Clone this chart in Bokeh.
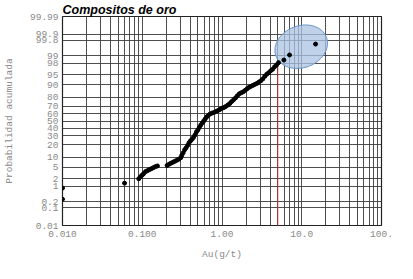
from statistics import NormalDist
from bokeh.plotting import figure
from bokeh.models import Range1d, FixedTicker, CustomJSTickFormatter, BoxAnnotation
from bokeh.embed import file_html
from bokeh.resources import INLINE

# ---- data ----
au = [0.010, 0.010, 0.060,
      0.0904, 0.0955, 0.0998, 0.104, 0.110, 0.116, 0.123, 0.130, 0.138, 0.146, 0.155,
      0.205, 0.217, 0.229, 0.243, 0.257, 0.272, 0.287, 0.304,
      0.313, 0.326, 0.340, 0.355, 0.371, 0.386, 0.403, 0.420, 0.439, 0.458, 0.478,
      0.498, 0.520, 0.542, 0.565, 0.590, 0.615, 0.642, 0.670, 0.708, 0.750, 0.792,
      0.839, 0.889, 0.940, 0.995, 1.05, 1.11, 1.18, 1.25, 1.32, 1.40, 1.48, 1.56,
      1.65, 1.75, 1.85, 1.96, 2.07, 2.19, 2.32, 2.45, 2.59, 2.75, 2.90, 3.07, 3.25,
      3.44, 3.64, 3.85, 4.07, 4.31, 4.56, 4.83, 5.11, 5.97, 7.03, 14.9]
prob = [0.27, 0.85, 1.35,
        2.0, 2.39, 2.71, 3.05, 3.58, 3.86, 4.17, 4.49, 4.84, 5.2, 5.48,
        5.7, 6.2, 6.66, 7.13, 7.62, 8.14, 8.69, 9.56,
        11.1, 12.9, 15.3, 17.0, 19.3, 21.9, 24.0, 25.7, 28.0, 31.0, 34.9,
        37.5, 40.9, 44.4, 47.2, 50.0, 52.8, 55.6, 57.7, 59.8, 61.1, 61.8,
        63.2, 64.5, 65.8, 67.4, 68.3, 69.6, 71.4, 73.2, 75.5, 77.6, 79.5, 81.6,
        83.4, 84.3, 85.1, 86.3, 87.5, 88.5, 89.2, 89.8, 90.4, 91.0, 91.7, 92.4, 93.3,
        94.4, 95.2, 95.7, 96.3, 96.7, 97.3, 97.7, 98.1, 98.5, 99.06, 99.69]

y_tick_pct = [0.01, 0.1, 0.2, 1, 2, 5, 10, 20, 30, 40, 50, 60, 70, 80, 90, 95, 98, 99, 99.8, 99.9, 99.99]
y_tick_labels = ["0.01", "0.1", "0.2", "1", "2", "5", "10", "20", "30", "40", "50",
                 "60", "70", "80", "90", "95", "98", "99", "99.8", "99.9", "99.99"]
x_ticks = [0.01, 0.1, 1, 10, 100]
x_tick_labels = ["0.010", "0.100", "1.00", "10.0", "100."]

cutoff_au = 5.0
cutoff_prob_top = 98.0
ellipse_au = 9.85
ellipse_prob = 99.59

# ---- probability (normal) scale ----
nd = NormalDist()
def z(p):
    return nd.inv_cdf(p / 100.0)

y_ticks_z = [z(p) for p in y_tick_pct]
x_grid = [m * 10.0 ** e for e in range(-2, 2) for m in range(1, 10)] + [100.0]

W, H = 397, 263
p = figure(width=W, height=H, x_axis_type="log",
           x_range=Range1d(0.01, 100), y_range=Range1d(y_ticks_z[0], y_ticks_z[-1]),
           output_backend="svg", toolbar_location=None,
           min_border_left=55, min_border_right=16, min_border_top=15, min_border_bottom=38)
p.border_fill_color = "#ffffff"

# light outer frame around the whole chart
p.add_layout(BoxAnnotation(left=0.5, right=W - 0.5, top=0.5, bottom=H - 0.5,
                           left_units="canvas", right_units="canvas",
                           top_units="canvas", bottom_units="canvas",
                           fill_color=None, fill_alpha=0, line_color="#a8a8a8",
                           line_width=1, line_alpha=1))

p.title.text = "Compositos de oro"
p.title.text_font = "Liberation Sans"
p.title.text_font_style = "bold italic"
p.title.text_font_size = "12.5px"
p.title.align = "left"
p.title.standoff = 0
p.title.offset = 0
p.title.text_color = "#000000"

p.outline_line_color = "#222222"
p.outline_line_width = 1.2

grid_color = "#3c3c3c"
p.xgrid.ticker = FixedTicker(ticks=x_grid)
p.ygrid.ticker = FixedTicker(ticks=y_ticks_z)
for g in (p.xgrid, p.ygrid):
    g.grid_line_color = grid_color
    g.grid_line_width = 1
    g.grid_line_alpha = 0.9

p.xaxis.ticker = FixedTicker(ticks=x_ticks)
p.yaxis.ticker = FixedTicker(ticks=y_ticks_z)
p.xaxis.formatter = CustomJSTickFormatter(args=dict(vals=x_ticks, labels=x_tick_labels), code="""
let b = 0;
for (let i = 0; i < vals.length; i++) {
  if (Math.abs(Math.log10(vals[i]) - Math.log10(tick)) < Math.abs(Math.log10(vals[b]) - Math.log10(tick))) b = i;
}
return labels[b];
""")
p.yaxis.formatter = CustomJSTickFormatter(args=dict(vals=y_ticks_z, labels=y_tick_labels), code="""
let b = 0;
for (let i = 0; i < vals.length; i++) {
  if (Math.abs(vals[i] - tick) < Math.abs(vals[b] - tick)) b = i;
}
return labels[b];
""")

for ax in (p.xaxis, p.yaxis):
    ax.axis_line_color = None
    ax.major_tick_line_color = None
    ax.minor_tick_line_color = None
    ax.major_tick_in = 0
    ax.major_tick_out = 0
    ax.major_label_text_font = "Liberation Mono"
    ax.major_label_text_font_size = "9.5px"
    ax.major_label_text_color = "#8a8a8a"
    ax.axis_label_text_font = "Liberation Mono"
    ax.axis_label_text_font_size = "9.5px"
    ax.axis_label_text_font_style = "normal"
    ax.axis_label_text_color = "#8a8a8a"
    ax.major_label_standoff = 4

p.xaxis.major_label_standoff = 5
p.xaxis.axis_label = "Au(g/t)"
p.yaxis.axis_label = "Probabilidad acumulada"
p.xaxis.axis_label_standoff = 9
p.yaxis.axis_label_standoff = 12

# highlight ellipse around the high-grade outliers
p.ellipse(x=[ellipse_au], y=[z(ellipse_prob)], width=54, height=42,
          width_units="screen", height_units="screen", angle=0.35,
          fill_color="#a9c3e2", fill_alpha=0.75, line_color="#6a95c8", line_width=1)

# cutoff line
p.line(x=[cutoff_au, cutoff_au], y=[y_ticks_z[0], z(cutoff_prob_top)],
       line_color="#e02828", line_dash="1 1", line_width=1.5)

# data points
p.scatter(x=au, y=[z(v) for v in prob], size=4, marker="circle",
          fill_color="#000000", line_color="#000000")

open("out.html", "w").write(file_html(p, INLINE))
